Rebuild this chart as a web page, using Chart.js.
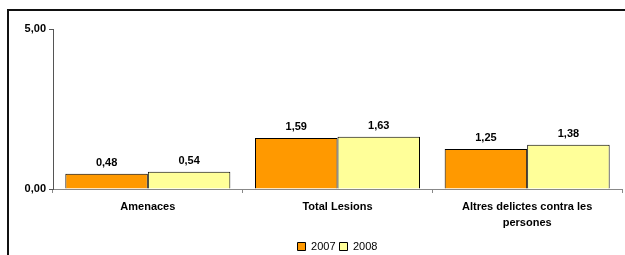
<!DOCTYPE html>
<html>
<head>
<meta charset="utf-8">
<script src="https://cdn.jsdelivr.net/npm/chart.js@4"></script>
<style>
  html, body { margin: 0; padding: 0; background: #fff; }
  #wrap { position: relative; width: 625px; height: 255px; overflow: hidden; }
  #frame {
    position: absolute; left: 7px; top: 9px; width: 630px; height: 260px;
    border-left: 2px solid #111; border-top: 2px solid #111; pointer-events: none;
  }
</style>
</head>
<body>
<div id="wrap">
  <canvas id="chart" width="625" height="255"></canvas>
  <div id="frame"></div>
</div>
<script>
const categories = ['Amenaces', 'Total Lesions', ['Altres delictes contra les', 'persones']];
const years = ['2007', '2008'];
const values2007 = [0.48, 1.59, 1.25];
const values2008 = [0.54, 1.63, 1.38];
const yTicks = [0, 5];

const fmt = v => v.toFixed(2).replace('.', ',');
const fontFamily = '"Liberation Sans", Arial, sans-serif';

// etiquetes de valor sobre les barres
const valueLabels = {
  id: 'valueLabels',
  afterDatasetsDraw(chart) {
    const ctx = chart.ctx;
    ctx.save();
    ctx.font = 'bold 11px ' + fontFamily;
    ctx.fillStyle = '#000';
    ctx.textAlign = 'center';
    ctx.textBaseline = 'middle';
    chart.data.datasets.forEach((ds, i) => {
      chart.getDatasetMeta(i).data.forEach((bar, j) => {
        ctx.fillText(fmt(ds.data[j]), bar.x, bar.y - 11);
      });
    });
    ctx.restore();
  }
};

new Chart(document.getElementById('chart'), {
  type: 'bar',
  data: {
    labels: categories,
    datasets: [
      { label: years[0], data: values2007, backgroundColor: '#FF9900', borderColor: '#000', borderWidth: 1 },
      { label: years[1], data: values2008, backgroundColor: '#FFFF99', borderColor: '#000', borderWidth: 1 }
    ]
  },
  options: {
    responsive: false,
    animation: false,
    layout: { padding: { top: 29, right: 3, left: 0, bottom: -7 } },
    plugins: {
      tooltip: { enabled: false },
      legend: {
        position: 'bottom',
        fullSize: false,
        labels: {
          boxWidth: 8, boxHeight: 8, padding: 4,
          color: '#000',
          font: { family: fontFamily, size: 11 }
        }
      }
    },
    datasets: {
      bar: { categoryPercentage: 0.87, barPercentage: 1.0 }
    },
    scales: {
      x: {
        grid: { drawOnChartArea: false, tickLength: 4, color: '#888', offset: true },
        border: { color: '#888' },
        ticks: {
          color: '#000', padding: 6,
          font: { family: fontFamily, size: 11, weight: 'bold', lineHeight: 1.45 }
        },
        afterFit(scale) { scale.height = 48; }
      },
      y: {
        min: 0, max: 5,
        afterBuildTicks(scale) { scale.ticks = yTicks.map(v => ({ value: v })); },
        grid: { drawOnChartArea: false, tickLength: 4, color: '#555' },
        border: { color: '#555' },
        ticks: {
          color: '#000', padding: 3,
          font: { family: fontFamily, size: 11, weight: 'bold' },
          callback: v => fmt(v)
        },
        afterFit(scale) { scale.width = 53; }
      }
    }
  },
  plugins: [valueLabels]
});
</script>
</body>
</html>
